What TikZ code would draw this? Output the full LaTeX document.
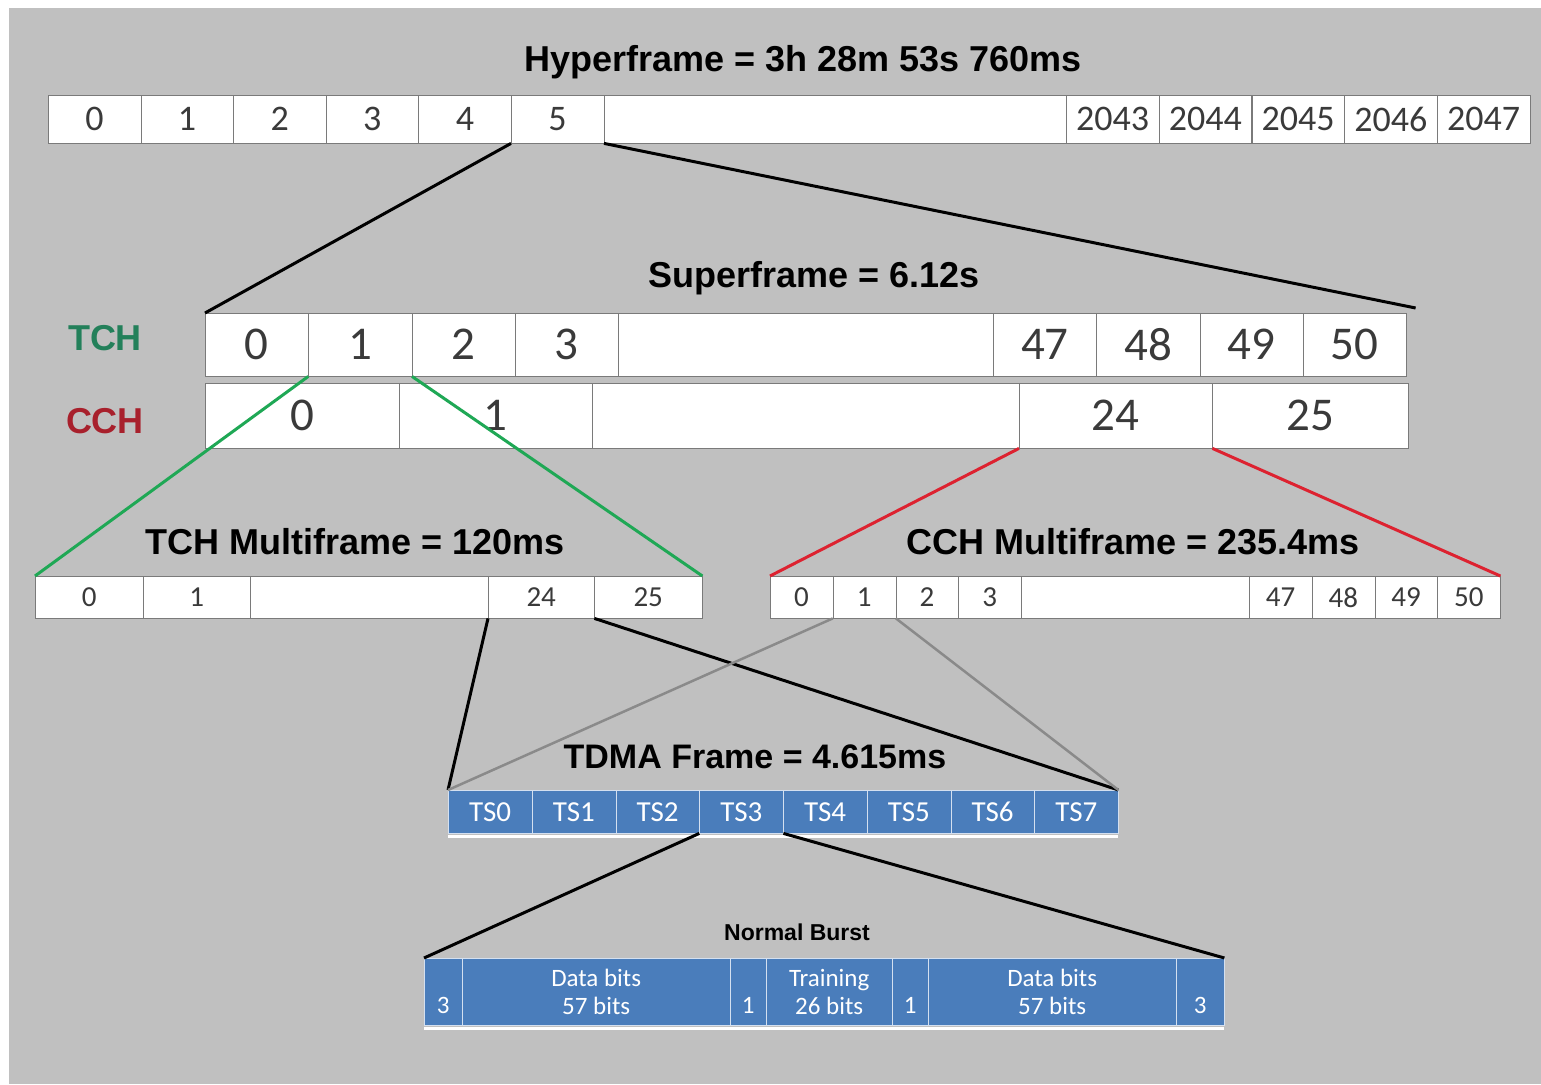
\documentclass[tikz,border=0pt]{standalone}
\usepackage{fontspec}
\setmainfont{Carlito}
\newfontfamily\headfont{Liberation Sans}
\usepackage{tikz}
\usetikzlibrary{calc}
\usepackage{xcolor}
\definecolor{GsmBack}{HTML}{C0C0C0}
\definecolor{GsmText}{HTML}{3A3A3A}
\definecolor{GsmRule}{HTML}{7A7A7A}
\definecolor{GsmTch}{HTML}{23805A}
\definecolor{GsmCch}{HTML}{A8202C}
\definecolor{GsmGreen}{HTML}{1FA855}
\definecolor{GsmRed}{HTML}{DD2230}
\definecolor{GsmBlue}{HTML}{4A7DBB}
\definecolor{GsmSlot}{HTML}{D4E0F0}
\definecolor{GsmLink}{HTML}{8A8A8A}

\begin{document}
\begin{tikzpicture}[x=1pt,y=-1pt,
  cell/.style={draw=GsmRule,fill=white,anchor=north west,inner sep=0pt,text=GsmText},
  hfcell/.style={cell,minimum width=92.6,minimum height=48,font=\fontsize{36}{38}\selectfont},
  sfcell/.style={cell,minimum width=103.3,minimum height=63,font=\fontsize{47}{50}\selectfont},
  ccell/.style={cell,minimum height=65,font=\fontsize{47}{50}\selectfont},
  mfcell/.style={cell,minimum height=42,font=\fontsize{29}{31}\selectfont},
  slot/.style={draw=GsmSlot,fill=GsmBlue,anchor=north west,inner sep=0pt,text=white,
    minimum width=83.75,minimum height=43,font=\fontsize{29}{30}\selectfont},
  burst/.style={slot,minimum height=67,align=center,font=\fontsize{25}{28}\selectfont},
  title/.style={font=\headfont\bfseries\fontsize{36}{38}\selectfont,text=black},
  chan/.style={font=\headfont\bfseries\fontsize{36}{38}\selectfont},
  link/.style={line width=3pt}]
  \useasboundingbox (0,0) rectangle (1541,1084);
  \fill[white] (0,0) rectangle (1541,1084);
  \fill[GsmBack] (9,8) rectangle (1541,1084);

  \node[title] (htitle) at (803,62) {Hyperframe = 3h 28m 53s 760ms};
  \foreach \lab [count=\i from 0] in {0,...,5}
    \node[hfcell] (hf\i) at ({48+92.6*\i},95) {\lab};
  \node[hfcell,minimum width=462] (hfgap) at (604,95) {};
  \foreach \lab in {2043,...,2047}
    \node[hfcell] (hf\lab) at ({1066+92.8*(\lab-2043)},95) {\lab};

  \node[title] (stitle) at (814,278) {Superframe = 6.12s};
  \node[chan,text=GsmTch] (tchlab) at (105,338) {TCH};
  \node[chan,text=GsmCch] (cchlab) at (105,421) {CCH};
  \foreach \lab [count=\i from 0] in {0,...,3}
    \node[sfcell] (tch\lab) at ({205+103.3*\i},313) {\lab};
  \node[sfcell,minimum width=375] (tchgap) at (618,313) {};
  \foreach \lab [count=\i from 0] in {47,...,50}
    \node[sfcell] (tch\lab) at ({993+103.3*\i},313) {\lab};
  \foreach \x/\w/\lab in {205/194/0,399/193/1,1019/193/24,1212/196/25}
    \node[ccell,minimum width=\w] (cch\lab) at (\x,383) {\lab};
  \node[ccell,minimum width=427] (cchgap) at (592,383) {};

  \node[title] (ttitle) at (355,542) {TCH Multiframe = 120ms};
  \foreach \x/\w/\lab in {35/108/0,143/107/1,488/106/24,594/108/25}
    \node[mfcell,minimum width=\w] (tcm\lab) at (\x,576) {\lab};
  \node[mfcell,minimum width=238] (tcmgap) at (250,576) {};

  \node[title] (ctitle) at (1133,542) {CCH Multiframe = 235.4ms};
  \foreach \lab [count=\i from 0] in {0,...,3}
    \node[mfcell,minimum width=62.75] (ccm\lab) at ({770+62.75*\i},576) {\lab};
  \node[mfcell,minimum width=228] (ccmgap) at (1021,576) {};
  \foreach \lab [count=\i from 0] in {47,...,50}
    \node[mfcell,minimum width=62.75] (ccm\lab) at ({1249+62.75*\i},576) {\lab};

  \node[title,font=\headfont\bfseries\fontsize{34}{36}\selectfont] (dtitle) at (755,757) {TDMA Frame = 4.615ms};
  \foreach \i in {0,...,7}
    \node[slot] (ts\i) at ({448+83.75*\i},790) {TS\i};
  \draw[white,line width=3pt] ($(ts0.south west)+(0,3)$) -- ($(ts7.south east)+(0,3)$);

  \node[title,font=\headfont\bfseries\fontsize{23}{25}\selectfont] (btitle) at (797,932) {Normal Burst};
  \foreach \x/\w/\lab [count=\i] in {424/38/\phantom{0}\\3,462/268/Data bits\\57 bits,
      730/36/\phantom{0}\\1,766/126/Training\\26 bits,892/36/\phantom{0}\\1,
      928/248/Data bits\\57 bits,1176/48/\phantom{0}\\3}
    \node[burst,minimum width=\w] (nb\i) at (\x,958) {\lab};
  \draw[white,line width=3pt] ($(nb1.south west)+(0,3)$) -- ($(nb7.south east)+(0,3)$);

  \draw[link] (hf5.south west) -- (tch0.north west);
  \draw[link] (hf5.south east) -- ($(tch50.north east)+(9,-5)$);
  \draw[link,GsmGreen] (tch1.south west) -- (tcm0.north west);
  \draw[link,GsmGreen] (tch1.south east) -- (tcm25.north east);
  \draw[link,GsmRed] (cch24.south west) -- (ccm0.north west);
  \draw[link,GsmRed] (cch24.south east) -- (ccm50.north east);
  \draw[link] (tcm24.south west) -- (ts0.north west);
  \draw[link] (tcm24.south east) -- (ts7.north east);
  \draw[link,GsmLink,line width=2.5pt] (ccm1.south west) -- (ts0.north west);
  \draw[link,GsmLink,line width=2.5pt] (ccm1.south east) -- (ts7.north east);
  \draw[link] (ts3.south west) -- (nb1.north west);
  \draw[link] (ts3.south east) -- (nb7.north east);
\end{tikzpicture}
\end{document}
